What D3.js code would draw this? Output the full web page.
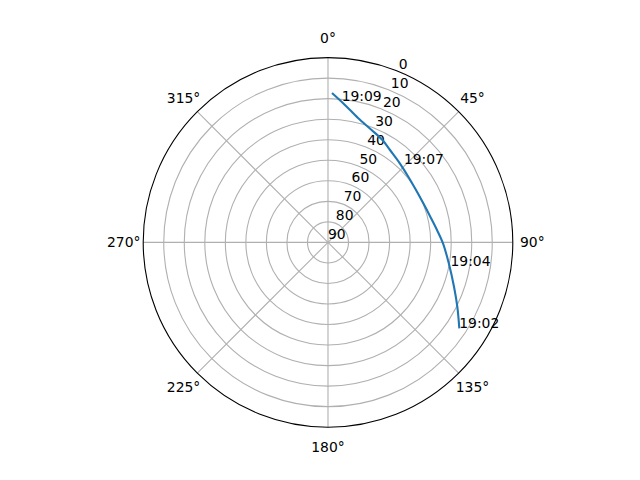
<!DOCTYPE html>
<html>
<head>
<meta charset="utf-8">
<script src="https://cdn.jsdelivr.net/npm/d3@7"></script>
<style>
  body { margin: 0; background: #fff; }
  text { font-family: "DejaVu Sans", sans-serif; font-size: 13.9px; fill: #000; }
</style>
</head>
<body>
<div id="chart"></div>
<script>
// satellite pass track, azimuth (deg, clockwise from north) and elevation (deg)
const trackAz = [123.19, 116.44, 109.37, 99.82, 90.45, 83.51, 75.90, 67.70, 59.23,
                 50.71, 42.23, 33.86, 28.02, 21.02, 13.56, 6.91, 1.53];
const trackEl = [13.58, 19.67, 24.95, 30.30, 33.99, 36.57, 38.63, 39.83, 40.12,
                 39.47, 37.97, 35.81, 33.51, 31.20, 27.68, 22.45, 17.22];

// time stamps written along the track
const timeLabels = ["19:02", "19:04", "19:07", "19:09"];
const timeAz = [123.2, 100.7, 43.9, 5.5];
const timeEl = [13.6, 29.3, 36.7, 20.6];

// axis ticks
const elevationTicks = [0, 10, 20, 30, 40, 50, 60, 70, 80, 90];
const azimuthTicks = [0, 45, 90, 135, 180, 225, 270, 315];

const width = 640, height = 480;
const cx = 328, cy = 242.4, R = 184.8;
const rad = Math.PI / 180;

const svg = d3.select("#chart").append("svg")
    .attr("width", width)
    .attr("height", height);

const g = svg.append("g")
    .attr("transform", `translate(${cx},${cy})`);

// elevation 90 in the middle, 0 on the rim
const r = d3.scaleLinear().domain([90, 0]).range([0, R]);

const px = (az, el) => r(el) * Math.sin(az * rad);
const py = (az, el) => -r(el) * Math.cos(az * rad);

// grid circles
g.selectAll(".ring")
    .data(elevationTicks.filter(d => d > 0 && d < 90))
    .enter().append("circle")
    .attr("class", "ring")
    .attr("r", d => r(d))
    .attr("fill", "none")
    .attr("stroke", "#b0b0b0")
    .attr("stroke-width", 1.1);

// spokes
g.selectAll(".spoke")
    .data(azimuthTicks)
    .enter().append("line")
    .attr("class", "spoke")
    .attr("x1", 0).attr("y1", 0)
    .attr("x2", d => px(d, 0))
    .attr("y2", d => py(d, 0))
    .attr("stroke", "#b0b0b0")
    .attr("stroke-width", 1.1);

// outer spine
g.append("circle")
    .attr("r", r(0))
    .attr("fill", "none")
    .attr("stroke", "#000")
    .attr("stroke-width", 1.1);

// azimuth labels
g.selectAll(".az-label")
    .data(azimuthTicks)
    .enter().append("text")
    .attr("class", "az-label")
    .attr("x", d => (R + 19.5) * Math.sin(d * rad))
    .attr("y", d => -(R + 19.5) * Math.cos(d * rad))
    .attr("dy", "0.35em")
    .attr("text-anchor", "middle")
    .text(d => d + "°");

// elevation labels along 22.5 deg
g.selectAll(".el-label")
    .data(elevationTicks)
    .enter().append("text")
    .attr("class", "el-label")
    .attr("x", d => px(22.5, d))
    .attr("y", d => py(22.5, d) - 3)
    .attr("text-anchor", "start")
    .text(d => d);

// the track
const track = trackAz.map((a, i) => [a * rad, r(trackEl[i])]);

g.append("path")
    .datum(track)
    .attr("fill", "none")
    .attr("stroke", "#1f77b4")
    .attr("stroke-width", 2.1)
    .attr("d", d3.lineRadial()
        .angle(d => d[0])
        .radius(d => d[1])
        .curve(d3.curveCatmullRom));

// time stamps
g.selectAll(".time-label")
    .data(timeLabels)
    .enter().append("text")
    .attr("class", "time-label")
    .attr("x", (d, i) => px(timeAz[i], timeEl[i]))
    .attr("y", (d, i) => py(timeAz[i], timeEl[i]))
    .attr("text-anchor", "start")
    .text(d => d);
</script>
</body>
</html>
